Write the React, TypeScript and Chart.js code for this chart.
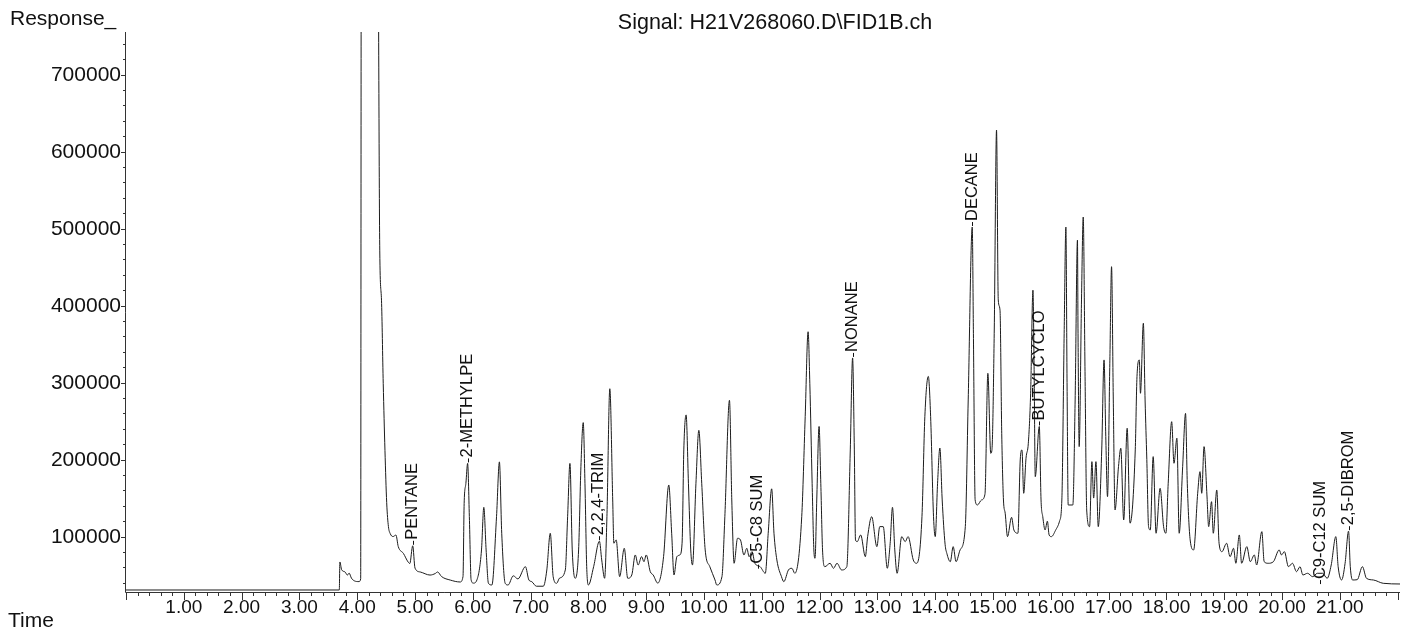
import React, { useEffect, useRef } from 'react';
import { Chart, registerables } from 'chart.js';

Chart.register(...registerables);

// ---- Signal trace (retention time in minutes, detector response) ----
const earlyTimes = [
  0.0, 3.69, 3.7, 3.73, 3.79, 3.83, 3.86, 3.9, 3.95, 4.03, 4.06, 4.07, 4.22, 4.36, 4.39, 4.42, 4.45, 4.48,
  4.51, 4.54, 4.57, 4.62, 4.67, 4.71, 4.8, 4.88, 4.91, 4.96, 5.0, 5.09, 5.26, 5.35, 5.39, 5.46, 5.61, 5.78,
  5.83, 5.85, 5.88, 5.91, 5.94, 5.97, 6.01, 6.07, 6.15, 6.19, 6.23, 6.27, 6.33, 6.41, 6.46, 6.5, 6.56, 6.61,
  6.7, 6.78, 6.91, 6.97, 7.02, 7.1, 7.22, 7.28, 7.34, 7.39, 7.45, 7.5, 7.6, 7.64, 7.68, 7.72, 7.77, 7.83,
  7.87, 7.91, 7.94, 7.97, 8.0, 8.09, 8.19, 8.23, 8.28, 8.32, 8.37, 8.42, 8.44, 8.48, 8.54, 8.62, 8.68, 8.75,
  8.81, 8.86, 8.92, 8.96, 9.0, 9.07, 9.12,
];
const earlyResponses = [
  30600, 30600, 67000, 57000, 54000, 50000, 52500, 46000, 42500, 41500, 45000, 900000, 1400000, 900000, 472000, 407000, 299000, 212000,
  144000, 113000, 104000, 100000, 102000, 87000, 78000, 67000, 65000, 88000, 59000, 54000, 50000, 52000, 54000, 48000, 43500, 41000,
  48000, 143000, 169000, 195000, 126000, 44000, 39500, 43500, 82600, 138000, 82600, 39300, 37100, 125800, 197000, 104300, 39300, 37100,
  49000, 45000, 60900, 43600, 41400, 35500, 35500, 56600, 104300, 47900, 39300, 46000, 56600, 125800, 195000, 82600, 45800, 82600,
  190800, 248000, 169200, 60900, 37100, 60900, 94000, 69600, 45800, 125800, 292000, 147500, 91300, 95600, 47900, 84800, 45800, 50100,
  76100, 63000, 74000, 67400, 76100, 54400, 50100,
];

const middleTimes = [
  9.2, 9.3, 9.39, 9.44, 9.48, 9.53, 9.58, 9.62, 9.65, 9.69, 9.73, 9.77, 9.8, 9.86, 9.91, 9.96, 10.02, 10.1,
  10.19, 10.22, 10.31, 10.36, 10.44, 10.48, 10.52, 10.58, 10.63, 10.69, 10.74, 10.78, 10.83, 10.88, 10.97, 11.06, 11.11, 11.17,
  11.21, 11.26, 11.34, 11.38, 11.46, 11.52, 11.57, 11.69, 11.75, 11.8, 11.83, 11.87, 11.9, 11.92, 11.95, 11.99, 12.02, 12.05,
  12.09, 12.18, 12.24, 12.3, 12.38, 12.47, 12.53, 12.57, 12.6, 12.62, 12.65, 12.71, 12.79, 12.83, 12.9, 12.99, 13.04, 13.1,
  13.17, 13.22, 13.26, 13.3, 13.34, 13.42, 13.48, 13.53, 13.62, 13.68, 13.77, 13.82, 13.88, 13.92, 13.97, 14.0, 14.04, 14.08,
  14.12,
];
const middleResponses = [
  39500, 73900, 167000, 104300, 50100, 73900, 76100, 91300, 212500, 258000, 169200, 82600, 63100, 169200, 238000, 169200, 82600, 60900,
  43600, 37100, 47900, 125800, 277000, 147500, 65300, 97800, 95600, 76100, 84800, 73900, 80400, 65300, 60900, 52300, 104300, 162000,
  104300, 69600, 47900, 41400, 56600, 58800, 52300, 125800, 255700, 366000, 299100, 169200, 82600, 71800, 147500, 243000, 169200, 82600,
  60900, 65300, 58800, 65300, 56600, 60900, 212500, 332000, 212500, 95600, 93400, 102100, 73900, 99900, 125800, 86900, 112900, 112900,
  58800, 91300, 138000, 82600, 52300, 99900, 93400, 99900, 69600, 65300, 125800, 255700, 308000, 255700, 125800, 99900, 169200, 215000,
  147500,
];

const lateTimes = [
  14.17, 14.2, 14.26, 14.31, 14.36, 14.43, 14.52, 14.57, 14.64, 14.66, 14.69, 14.73, 14.8, 14.86, 14.91, 14.96, 14.98, 15.02,
  15.06, 15.09, 15.12, 15.15, 15.18, 15.21, 15.25, 15.32, 15.36, 15.43, 15.47, 15.5, 15.53, 15.57, 15.61, 15.65, 15.69, 15.71,
  15.73, 15.8, 15.83, 15.86, 15.9, 15.94, 15.97, 16.01, 16.08, 16.15, 16.19, 16.23, 16.26, 16.28, 16.3, 16.38, 16.42, 16.46,
  16.47, 16.49, 16.53, 16.56, 16.59, 16.62, 16.67, 16.71, 16.74, 16.78, 16.82, 16.88, 16.92, 16.95, 16.98, 17.02, 17.05, 17.08,
  17.11, 17.17, 17.21, 17.26, 17.32, 17.37, 17.46, 17.49, 17.53, 17.55, 17.6, 17.63, 17.66, 17.69, 17.72, 17.77, 17.82, 17.89,
  17.95, 17.99, 18.03, 18.09, 18.13, 18.18, 18.22, 18.28, 18.33, 18.36, 18.41, 18.47, 18.54, 18.58, 18.61, 18.65, 18.7, 18.73,
  18.78, 18.81, 18.87, 18.91, 18.96, 19.04, 19.1, 19.16, 19.2, 19.26, 19.3, 19.39, 19.45, 19.52, 19.56, 19.65, 19.69, 19.76,
  19.85, 19.95, 19.99, 20.04, 20.11, 20.18, 20.25, 20.31, 20.36, 20.44, 20.53, 20.61, 20.7, 20.78, 20.85, 20.93, 20.97, 21.03,
  21.09, 21.15, 21.18, 21.22, 21.3, 21.39, 21.46, 21.58, 21.75, 22.04,
];
const lateResponses = [
  90000, 78300, 67400, 86900, 67400, 82600, 112900, 277400, 502000, 364000, 147500, 141000, 147500, 155000, 312000, 208200, 212000, 364000,
  628000, 407300, 394300, 234100, 147500, 130300, 99900, 125000, 108600, 104300, 199500, 212500, 156200, 201700, 221200, 286100, 420000, 320600,
  177800, 243000, 147500, 125800, 108600, 120000, 102000, 99900, 108000, 120000, 147500, 364000, 502000, 300000, 141000, 141000, 277400, 485000,
  364000, 216800, 407300, 515000, 320600, 134500, 112900, 197300, 150000, 197300, 112900, 212500, 329400, 230000, 151800, 325100, 450500, 277400,
  134500, 190800, 214700, 121600, 240600, 117300, 212500, 307700, 329400, 286100, 377000, 277400, 200000, 112900, 108600, 203800, 104300, 162700,
  112900, 104300, 169200, 249200, 195200, 227700, 104300, 190800, 260000, 169200, 95600, 82600, 156200, 184300, 156200, 216800, 154000, 112900,
  145300, 104300, 160500, 91300, 80400, 91300, 73900, 84800, 65300, 102100, 65300, 86900, 67400, 76100, 63100, 106400, 67400, 65300,
  67400, 82600, 76100, 80400, 60900, 65300, 54400, 60900, 50100, 52300, 47900, 52300, 52300, 45800, 63100, 100000, 60900, 43600,
  65300, 107000, 60900, 43600, 44000, 60900, 45800, 43600, 39300, 38400,
];

// ---- Peak annotations ----
const peakNames = ['PENTANE', '2-METHYLPE', '2,2,4-TRIM', 'C5-C8 SUM', 'NONANE', 'DECANE', 'BUTYLCYCLO', 'C9-C12 SUM', '2,5-DIBROM'];
const peakTimes = [4.96, 5.91, 8.18, 10.93, 12.57, 14.64, 15.8, 20.66, 21.15];
const peakHeights = [88000, 195000, 94000, 57000, 332000, 502000, 243000, 37000, 107000];

// ---- Axis ticks ----
const timeTickValues = [1, 2, 3, 4, 5, 6, 7, 8, 9, 10, 11, 12, 13, 14, 15, 16, 17, 18, 19, 20, 21];
const timeTickLabels = ['1.00', '2.00', '3.00', '4.00', '5.00', '6.00', '7.00', '8.00', '9.00', '10.00', '11.00',
  '12.00', '13.00', '14.00', '15.00', '16.00', '17.00', '18.00', '19.00', '20.00', '21.00'];
const responseTickValues = [100000, 200000, 300000, 400000, 500000, 600000, 700000];
const responseTickLabels = ['100000', '200000', '300000', '400000', '500000', '600000', '700000'];

const titleText = 'Signal: H21V268060.D\\FID1B.ch';
const yAxisTitle = 'Response_';
const xAxisTitle = 'Time';

const FONT = '"Liberation Sans", Arial, Helvetica, sans-serif';

const chromAxesPlugin = {
  id: 'chromAxes',
  afterDraw(chart: any) {
    const { ctx, chartArea, scales } = chart;
    const x = scales.x;
    const y = scales.y;
    const { left, right, top, bottom } = chartArea;
    ctx.save();
    ctx.strokeStyle = '#333';
    ctx.lineWidth = 1;
    ctx.beginPath();
    ctx.moveTo(left - 0.5, top);
    ctx.lineTo(left - 0.5, bottom + 0.5);
    ctx.lineTo(right, bottom + 0.5);
    // x ticks every 0.2 min, long at whole minutes
    const nX = Math.floor(x.max / 0.2 + 1e-6);
    for (let k = 0; k <= nX; k++) {
      const t = k * 0.2;
      const px = Math.round(x.getPixelForValue(t)) + 0.5;
      const len = k % 5 === 0 ? 8 : 4;
      ctx.moveTo(px, bottom);
      ctx.lineTo(px, bottom + len);
    }
    // y ticks every 20000, long at 100000
    for (let v = 40000; v <= y.max; v += 20000) {
      const py = Math.round(y.getPixelForValue(v)) + 0.5;
      const len = v % 100000 === 0 ? 5 : 3;
      ctx.moveTo(left, py);
      ctx.lineTo(left - len, py);
    }
    ctx.stroke();

    // response tick labels, placed with the y scale
    ctx.fillStyle = '#111';
    ctx.font = `21px ${FONT}`;
    ctx.textAlign = 'right';
    ctx.textBaseline = 'middle';
    responseTickValues.forEach((v, i) => {
      ctx.fillText(responseTickLabels[i], left - 5, y.getPixelForValue(v) + 1);
    });

    // header & axis titles
    ctx.textBaseline = 'alphabetic';
    ctx.font = `21px ${FONT}`;
    ctx.textAlign = 'left';
    ctx.fillText(yAxisTitle, 10, 25);
    ctx.fillText(xAxisTitle, 8, 627);
    ctx.textAlign = 'center';
    ctx.font = `21.5px ${FONT}`;
    ctx.fillText(titleText, 775, 29);
    ctx.restore();
  },
};

const peakLabelPlugin = {
  id: 'peakLabels',
  afterDatasetsDraw(chart: any) {
    const { ctx, scales } = chart;
    const x = scales.x;
    const y = scales.y;
    ctx.save();
    ctx.font = `16.5px ${FONT}`;
    ctx.fillStyle = '#111';
    ctx.strokeStyle = '#111';
    ctx.lineWidth = 1;
    peakNames.forEach((name, i) => {
      const px = x.getPixelForValue(peakTimes[i]);
      const py = y.getPixelForValue(peakHeights[i]);
      const lx = Math.round(px) + 0.5;
      ctx.beginPath();
      ctx.moveTo(lx, py - 1);
      ctx.lineTo(lx, py - 5);
      ctx.stroke();
      ctx.save();
      ctx.translate(px, py - 6);
      ctx.rotate(-Math.PI / 2);
      ctx.textAlign = 'left';
      ctx.textBaseline = 'middle';
      ctx.fillText(name, 0, 0);
      ctx.restore();
    });
    ctx.restore();
  },
};

export default function App() {
  const canvasRef = useRef<HTMLCanvasElement | null>(null);

  useEffect(() => {
    if (!canvasRef.current) return;
    const times = [...earlyTimes, ...middleTimes, ...lateTimes];
    const responses = [...earlyResponses, ...middleResponses, ...lateResponses];
    const points = times.map((t, i) => ({ x: t, y: responses[i] }));

    const chart = new Chart(canvasRef.current, {
      type: 'line',
      data: {
        datasets: [
          {
            label: 'FID1B',
            data: points,
            borderColor: '#1c1c1c',
            borderWidth: 1,
            pointRadius: 0,
            fill: false,
            cubicInterpolationMode: 'monotone',
          },
        ],
      },
      options: {
        animation: false,
        responsive: true,
        maintainAspectRatio: false,
        devicePixelRatio: 1,
        layout: { padding: { top: 32, right: 7, left: 0, bottom: 0 } },
        plugins: {
          legend: { display: false },
          tooltip: { enabled: false },
          title: { display: false },
        },
        scales: {
          x: {
            type: 'linear',
            min: 0,
            max: 22.04,
            grid: { display: false, drawTicks: false },
            border: { display: false },
            afterFit: (scale: any) => {
              scale.height = 38;
            },
            ticks: {
              stepSize: 1,
              autoSkip: false,
              maxRotation: 0,
              minRotation: 0,
              padding: 4,
              color: '#111',
              font: { family: FONT, size: 19 },
              callback: (value: any) => {
                const idx = timeTickValues.findIndex((v) => Math.abs(v - Number(value)) < 1e-6);
                return idx >= 0 ? timeTickLabels[idx] : '';
              },
            },
          },
          y: {
            type: 'linear',
            min: 28000,
            max: 755300,
            grid: { display: false, drawTicks: false },
            border: { display: false },
            afterFit: (scale: any) => {
              scale.width = 126;
            },
            ticks: {
              display: false,
              stepSize: 100000,
            },
          },
        },
      },
      plugins: [chromAxesPlugin, peakLabelPlugin],
    });

    return () => {
      chart.destroy();
    };
  }, []);

  return (
    <div style={{ position: 'fixed', left: 0, top: 0, width: 1407, height: 630, background: '#fff' }}>
      <canvas ref={canvasRef} />
    </div>
  );
}
